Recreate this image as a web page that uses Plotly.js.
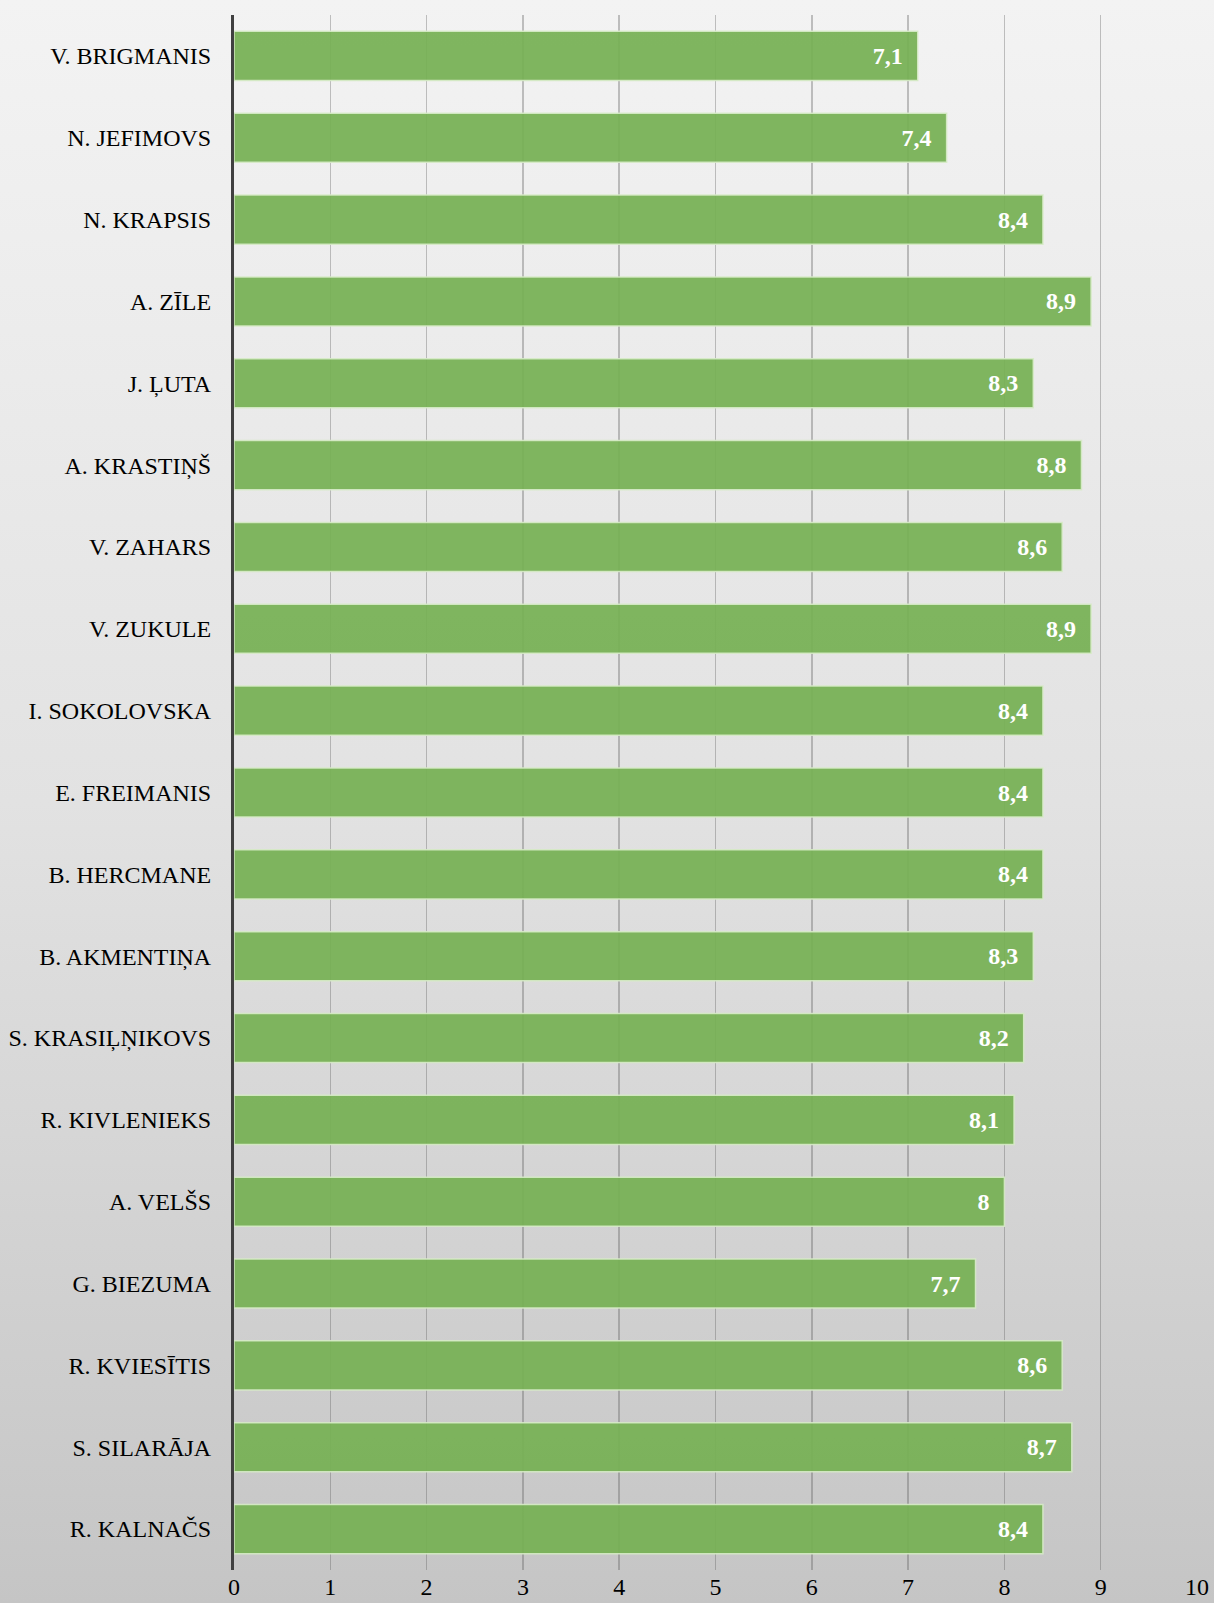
<!DOCTYPE html>
<html>
<head>
<meta charset="utf-8">
<script src="https://cdn.plot.ly/plotly-3.0.1.min.js"></script>
<style>
html,body{margin:0;padding:0;}
body{width:1214px;height:1603px;background:linear-gradient(to bottom,#f3f3f3 0%,#e2e2e2 50%,#c5c5c5 100%);}
#chart{width:1214px;height:1603px;}
</style>
</head>
<body>
<div id="chart"></div>
<script>
const names = ["V. BRIGMANIS","N. JEFIMOVS","N. KRAPSIS","A. ZĪLE","J. ĻUTA","A. KRASTIŅŠ","V. ZAHARS","V. ZUKULE","I. SOKOLOVSKA","E. FREIMANIS","B. HERCMANE","B. AKMENTIŅA","S. KRASIĻŅIKOVS","R. KIVLENIEKS","A. VELŠS","G. BIEZUMA","R. KVIESĪTIS","S. SILARĀJA","R. KALNAČS"];
const scores = [7.1,7.4,8.4,8.9,8.3,8.8,8.6,8.9,8.4,8.4,8.4,8.3,8.2,8.1,8,7.7,8.6,8.7,8.4];
const xTicks = [0,1,2,3,4,5,6,7,8,9,10];

const labels = scores.map(v => String(v).replace('.', ',') + '\u2002');
const FONT = '"Liberation Serif"';

const trace = {
  type: 'bar',
  orientation: 'h',
  y: names,
  x: scores,
  text: labels,
  textposition: 'inside',
  insidetextanchor: 'end',
  textangle: 0,
  cliponaxis: false,
  textfont: {family: FONT, size: 24, color: '#ffffff', weight: 'bold'},
  marker: {color: 'rgba(118,176,84,0.93)', line: {color: 'rgba(215,235,200,0.9)', width: 1.5}},
  hoverinfo: 'none'
};

const layout = {
  width: 1214,
  height: 1603,
  margin: {l: 234, r: 17, t: 15, b: 33},
  paper_bgcolor: 'rgba(0,0,0,0)',
  plot_bgcolor: 'rgba(0,0,0,0)',
  showlegend: false,
  bargap: 0.4,
  font: {family: FONT, size: 24, color: '#000000'},
  xaxis: {
    range: [0, 10],
    tickvals: xTicks,
    ticktext: xTicks.map(String),
    showgrid: true,
    gridcolor: 'rgba(90,90,90,0.35)',
    gridwidth: 1.5,
    zeroline: false,
    showline: false,
    ticks: '',
    tickfont: {family: FONT, size: 24, color: '#000000'},
    fixedrange: true
  },
  yaxis: {
    autorange: 'reversed',
    showgrid: false,
    zeroline: false,
    showline: true,
    linecolor: '#404040',
    linewidth: 3,
    layer: 'above traces',
    ticks: '',
    ticklabelstandoff: 15,
    tickfont: {family: FONT, size: 24, color: '#000000'},
    fixedrange: true
  }
};

Plotly.newPlot('chart', [trace], layout, {displayModeBar: false, staticPlot: true});
</script>
</body>
</html>
